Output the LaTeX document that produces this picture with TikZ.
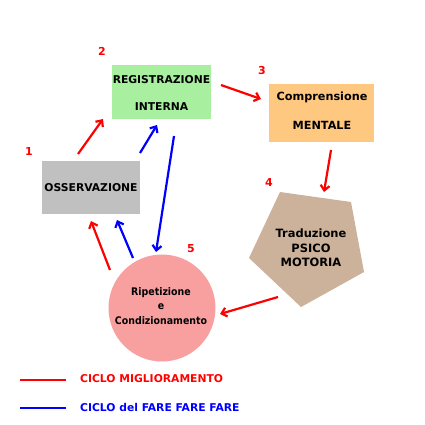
\documentclass[tikz,border=0pt]{standalone}
\usepackage{fontspec}
\setmainfont{DejaVu Sans}
\newfontfamily\condf{DejaVu Sans Condensed}
\usetikzlibrary{arrows.meta,shapes.geometric}
\definecolor{gbox}{HTML}{C0C0C0}
\definecolor{greenbox}{HTML}{A8F0A0}
\definecolor{orbox}{HTML}{FFC880}
\definecolor{tanbox}{HTML}{CCB29A}
\definecolor{pinkc}{HTML}{F8A0A0}
\definecolor{rd}{HTML}{FF0000}
\definecolor{bl}{HTML}{0000FF}
\tikzset{
  boxtxt/.style={font=\fontsize{10.8}{12}\selectfont\bfseries, align=center, inner sep=0pt},
  num/.style={font=\fontsize{11}{13}\selectfont\bfseries, text=rd, inner sep=0pt},
  redarr/.style={draw=rd, line width=2.2bp, -{Straight Barb[length=5bp,width=9bp]}},
  bluearr/.style={draw=bl, line width=2.2bp, -{Straight Barb[length=5bp,width=9bp]}},
  legline/.style={line width=2.6bp},
  legtxt/.style={font=\fontsize{10.8}{13}\selectfont\bfseries, anchor=west, inner sep=0pt}
}
\begin{document}
\begin{tikzpicture}[x=1bp,y=-1bp]
\useasboundingbox[fill=white] (0,0) rectangle (425,425);
% boxes
\fill[gbox] (42,161) rectangle (140,214);
\node[boxtxt] (oss) at (91,188) {OSSERVAZIONE};
\fill[greenbox] (112,65) rectangle (211,119);
\node[boxtxt] (reg) at (161.5,93) {REGISTRAZIONE\\[16bp]INTERNA};
\fill[orbox] (269,84) rectangle (374,142);
\node[boxtxt, font=\fontsize{11.3}{12}\selectfont\bfseries] (com) at (322,111) {Comprensione\\[17bp]MENTALE};
\fill[tanbox] (280,192) -- (351,202) -- (364,272) -- (301,307) -- (249,258) -- cycle;
\node[boxtxt, font=\fontsize{11.5}{14.5}\selectfont\bfseries] (tra) at (311,248) {Traduzione\\PSICO\\MOTORIA};
\fill[pinkc] (162,308) circle (53.5);
\node[align=center, inner sep=0pt, font=\condf\fontsize{10.5}{14.5}\selectfont\bfseries] (rip) at (161,306) {Ripetizione\\e\\Condizionamento};
% numbers
\node[num] (n1) at (29,151) {1};
\node[num] (n2) at (102,51) {2};
\node[num] (n3) at (262,71) {3};
\node[num] (n4) at (269,182) {4};
\node[num] (n5) at (191,249) {5};
% arrow coordinates
\coordinate (r1a) at (78,154); \coordinate (r1b) at (103,119);
\coordinate (r2a) at (221,85); \coordinate (r2b) at (261,99);
\coordinate (r3a) at (331,150); \coordinate (r3b) at (324,192);
\coordinate (r4a) at (278,297); \coordinate (r4b) at (220,314);
\coordinate (r5a) at (110,270); \coordinate (r5b) at (91,221);
\coordinate (b1a) at (140,153); \coordinate (b1b) at (157,125);
\coordinate (b2a) at (174,136); \coordinate (b2b) at (156,252);
\coordinate (b3a) at (133,258); \coordinate (b3b) at (117,220);
\draw[redarr] (r1a) -- (r1b);
\draw[redarr] (r2a) -- (r2b);
\draw[redarr] (r3a) -- (r3b);
\draw[redarr] (r4a) -- (r4b);
\draw[redarr] (r5a) -- (r5b);
\draw[bluearr] (b1a) -- (b1b);
\draw[bluearr] (b2a) -- (b2b);
\draw[bluearr] (b3a) -- (b3b);
% legend
\coordinate (l1a) at (20,380); \coordinate (l1b) at (66,380);
\coordinate (l2a) at (20,408); \coordinate (l2b) at (66,408);
\draw[legline, rd] (l1a) -- (l1b);
\draw[legline, bl] (l2a) -- (l2b);
\node[legtxt, text=rd] (lt1) at (80,379) {CICLO MIGLIORAMENTO};
\node[legtxt, text=bl] (lt2) at (80,407) {CICLO del FARE FARE FARE};
\end{tikzpicture}
\end{document}
